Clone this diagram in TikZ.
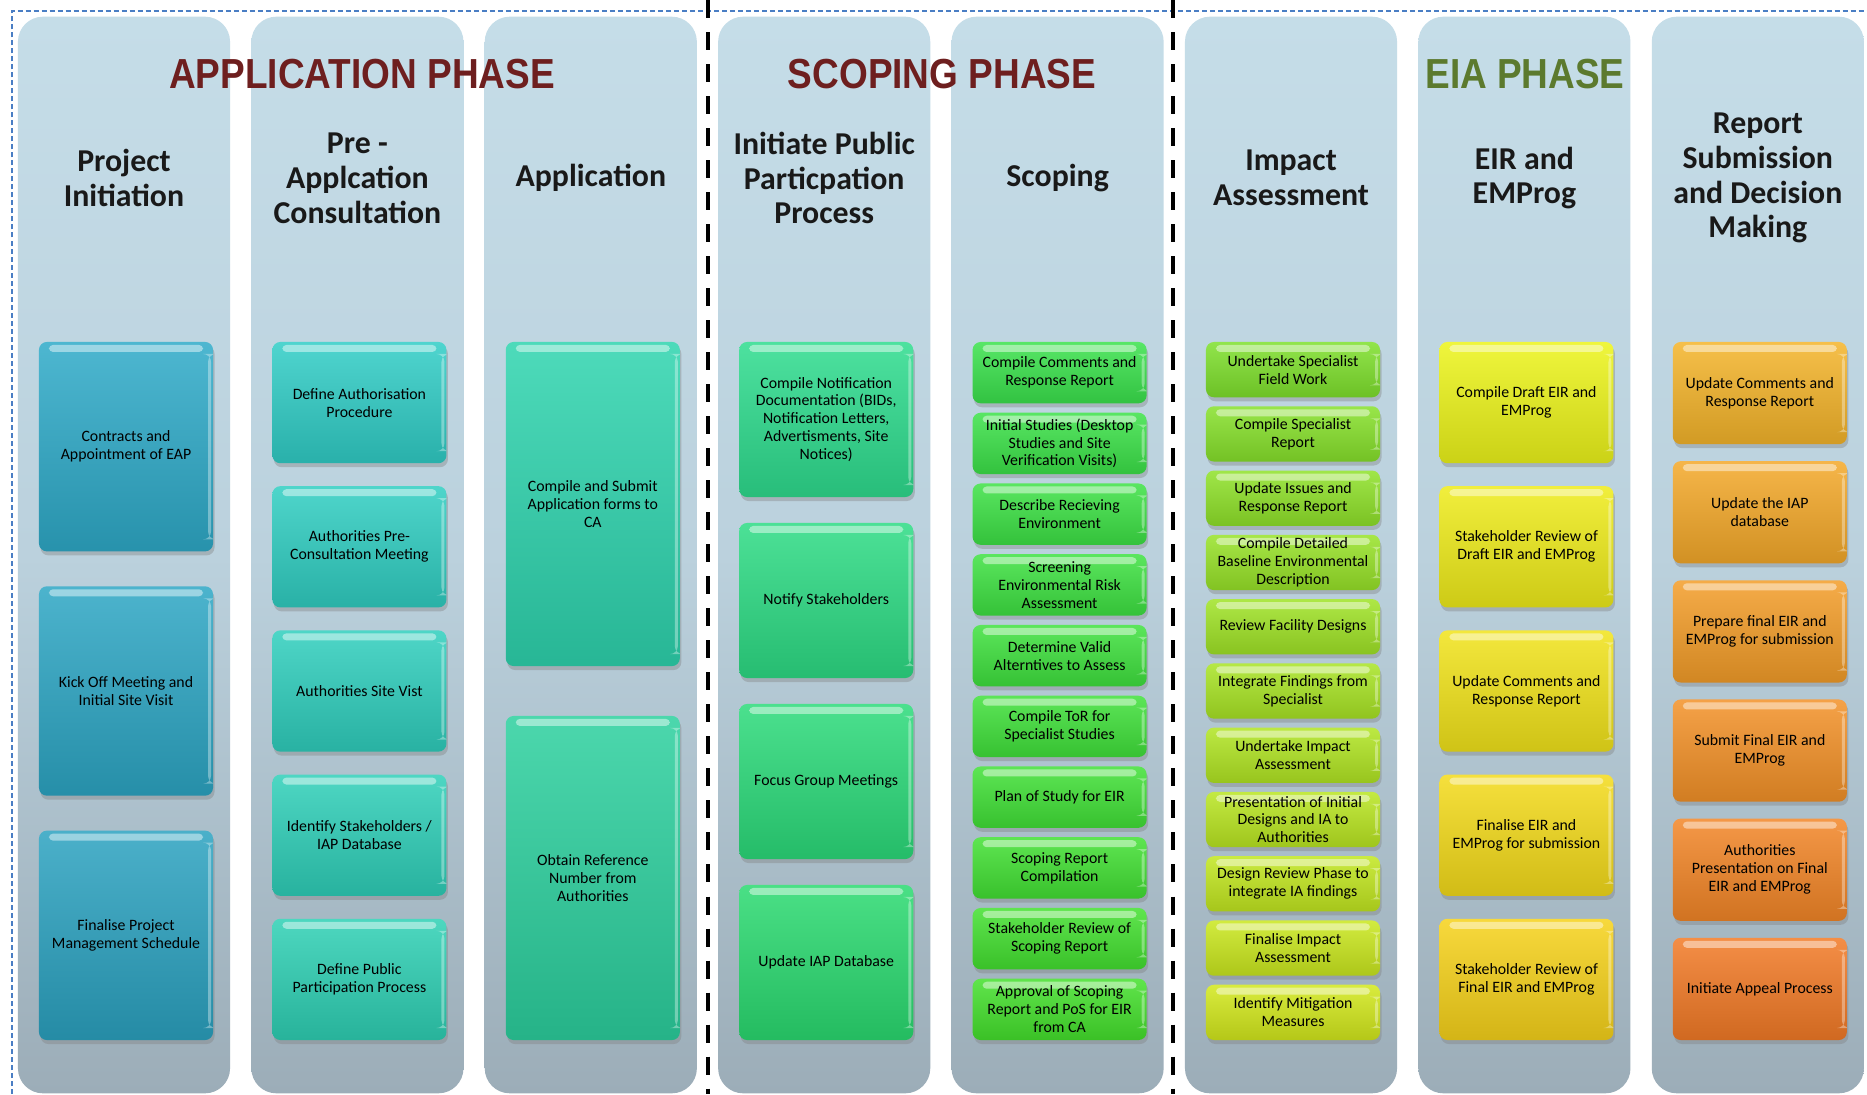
\documentclass[tikz,border=0pt]{standalone}
\usepackage{fontspec}
\setmainfont{Carlito}
\newfontfamily\phasefont[FakeStretch=0.88]{Liberation Sans}
\usepackage{tikz}
\usetikzlibrary{shadows}

\definecolor{phasered}{HTML}{6E1F1F}
\definecolor{phasegreen}{HTML}{5C7A2E}
\definecolor{frameblue}{HTML}{4A7EC4}
\definecolor{lanetop}{HTML}{C5DDE8}
\definecolor{lanemid}{HTML}{BBD1DD}
\definecolor{lanebot}{HTML}{9CADB8}
\definecolor{c1a}{HTML}{2EAAC8}\definecolor{c1b}{HTML}{2BA2C0}
\definecolor{c2a}{HTML}{30CDC6}\definecolor{c2b}{HTML}{2ED0B4}
\definecolor{c3a}{HTML}{2ED4AE}\definecolor{c3b}{HTML}{2CD09E}
\definecolor{c4a}{HTML}{2EDC8E}\definecolor{c4b}{HTML}{2ADA70}
\definecolor{c5a}{HTML}{3AE24C}\definecolor{c5b}{HTML}{44E02C}
\definecolor{c6a}{HTML}{7EE02C}\definecolor{c6b}{HTML}{D2E81C}
\definecolor{c7a}{HTML}{ECF41A}\definecolor{c7b}{HTML}{F6D21A}
\definecolor{c8a}{HTML}{F4B42A}\definecolor{c8b}{HTML}{F27A26}

\tikzset{
  lane/.style={rounded corners=0.25cm, top color=lanetop, bottom color=lanebot,
    middle color=lanemid, minimum width=2.12cm, minimum height=10.76cm, inner sep=0pt},
  lanetitle/.style={align=center, text=black!90,
    font=\fontsize{9.05}{9.9}\selectfont\bfseries},
  phase/.style={font=\phasefont\fontsize{11.95}{13}\selectfont\bfseries},
  task/.style={rounded corners=0.08cm, minimum width=1.74cm, align=center,
    inner xsep=1pt, inner ysep=0pt, text=black,
    font=\fontsize{4.5}{5.1}\selectfont,
    top color=taskbase!85!white, bottom color=taskbase!86!black,
    drop shadow={opacity=0.38, shadow xshift=0.015cm, shadow yshift=-0.04cm},
    path picture={
      \fill[white, opacity=0.45, rounded corners=0.04cm]
        ([xshift=0.1cm, yshift=-0.03cm]path picture bounding box.north west)
        rectangle ([xshift=-0.1cm, yshift=-0.1cm]path picture bounding box.north east);
      \fill[white, opacity=0.35]
        ([xshift=-0.05cm, yshift=-0.12cm]path picture bounding box.north east)
        rectangle ([xshift=-0.02cm, yshift=0.12cm]path picture bounding box.south east);
    }},
  divider/.style={line width=0.04cm, dash pattern=on 0.18cm off 0.14cm},
  framebox/.style={draw=frameblue, line width=0.012cm, dash pattern=on 0.05cm off 0.03cm}
}

\newcommand{\taskcolumn}[7]{%
  \pgfmathsetmacro{\boxh}{(698-(#3-1)*#4)/#3/100}
  \foreach \txt [count=\i] in {#7} {
    \pgfmathtruncatemacro{\mixp}{100-100*(\i-1)/(#3-1)}
    \pgfmathsetmacro{\yc}{342+\boxh*50+(\i-1)*(\boxh*100+#4)}
    \colorlet{taskbase}{#5!\mixp!#6}
    \node[task, minimum height=\boxh cm] (#1\i) at (#2,\yc) {\txt};
  }%
}

\begin{document}
\begin{tikzpicture}[x=0.01cm, y=-0.01cm]
  \useasboundingbox (0,0) rectangle (1867,1094);
  \fill[white] (0,0) rectangle (1867,1094);

  \draw[framebox] (12,1094) -- (12,11) -- (1867,11);

  \node[lane] (pinit) at (124,555) {};
  \node[lane] (precons) at (357.4,555) {};
  \node[lane] (appl) at (590.8,555) {};
  \node[lane] (ppp) at (824.2,555) {};
  \node[lane] (scop) at (1057.6,555) {};
  \node[lane] (impact) at (1291,555) {};
  \node[lane] (eir) at (1524.4,555) {};
  \node[lane] (report) at (1757.8,555) {};

  \draw[divider] (708,0) -- (708,1094);
  \draw[divider] (1173,0) -- (1173,1094);

  \node[phase, text=phasered] (appphase) at (362,74) {APPLICATION PHASE};
  \node[phase, text=phasered] (scophase) at (942,74) {SCOPING PHASE};
  \node[phase, text=phasegreen] (eiaphase) at (1525,74) {EIA PHASE};

  \node[lanetitle] (pinit-t) at (124,178) {Project\\Initiation};
  \node[lanetitle] (precons-t) at (357.4,178) {Pre -\\Applcation\\Consultation};
  \node[lanetitle] (appl-t) at (590.8,178) {Application};
  \node[lanetitle] (ppp-t) at (824.2,178) {Initiate Public\\Particpation\\Process};
  \node[lanetitle] (scop-t) at (1057.6,178) {Scoping};
  \node[lanetitle] (impact-t) at (1291,178) {Impact\\Assessment};
  \node[lanetitle] (eir-t) at (1524.4,178) {EIR and\\EMProg};
  \node[lanetitle] (report-t) at (1757.8,178) {Report\\Submission\\and Decision\\Making};

  \taskcolumn{pinit}{126}{3}{35}{c1a}{c1b}{%
    {Contracts and\\Appointment of EAP},
    {Kick Off Meeting and\\Initial Site Visit},
    {Finalise Project\\Management Schedule}}
  \taskcolumn{precons}{359.4}{5}{23}{c2a}{c2b}{%
    {Define Authorisation\\Procedure},
    {Authorities Pre-\\Consultation Meeting},
    {Authorities Site Vist},
    {Identify Stakeholders /\\IAP Database},
    {Define Public\\Participation Process}}
  \taskcolumn{appl}{592.8}{2}{50}{c3a}{c3b}{%
    {Compile and Submit\\Application forms to\\CA},
    {Obtain Reference\\Number from\\Authorities}}
  \taskcolumn{ppp}{826.2}{4}{26}{c4a}{c4b}{%
    {Compile Notification\\Documentation (BIDs,\\Notification Letters,\\Advertisments, Site\\Notices)},
    {Notify Stakeholders},
    {Focus Group Meetings},
    {Update IAP Database}}
  \taskcolumn{scop}{1059.6}{10}{9.5}{c5a}{c5b}{%
    {Compile Comments and\\Response Report},
    {Initial Studies (Desktop\\Studies and Site\\Verification Visits)},
    {Describe Recieving\\Environment},
    {Screening\\Environmental Risk\\Assessment},
    {Determine Valid\\Alterntives to Assess},
    {Compile ToR for\\Specialist Studies},
    {Plan of Study for EIR},
    {Scoping Report\\Compilation},
    {Stakeholder Review of\\Scoping Report},
    {Approval of Scoping\\Report and PoS for EIR\\from CA}}
  \taskcolumn{impact}{1293}{11}{9}{c6a}{c6b}{%
    {Undertake Specialist\\Field Work},
    {Compile Specialist\\Report},
    {Update Issues and\\Response Report},
    {Compile Detailed\\Baseline Environmental\\Description},
    {Review Facility Designs},
    {Integrate Findings from\\Specialist},
    {Undertake Impact\\Assessment},
    {Presentation of Initial\\Designs and IA to\\Authorities},
    {Design Review Phase to\\integrate IA findings},
    {Finalise Impact\\Assessment},
    {Identify Mitigation\\Measures}}
  \taskcolumn{eir}{1526.4}{5}{23}{c7a}{c7b}{%
    {Compile Draft EIR and\\EMProg},
    {Stakeholder Review of\\Draft EIR and EMProg},
    {Update Comments and\\Response Report},
    {Finalise EIR and\\EMProg for submission},
    {Stakeholder Review of\\Final EIR and EMProg}}
  \taskcolumn{report}{1759.8}{6}{17}{c8a}{c8b}{%
    {Update Comments and\\Response Report},
    {Update the IAP\\database},
    {Prepare final EIR and\\EMProg for submission},
    {Submit Final EIR and\\EMProg},
    {Authorities\\Presentation on Final\\EIR and EMProg},
    {Initiate Appeal Process}}
\end{tikzpicture}
\end{document}
